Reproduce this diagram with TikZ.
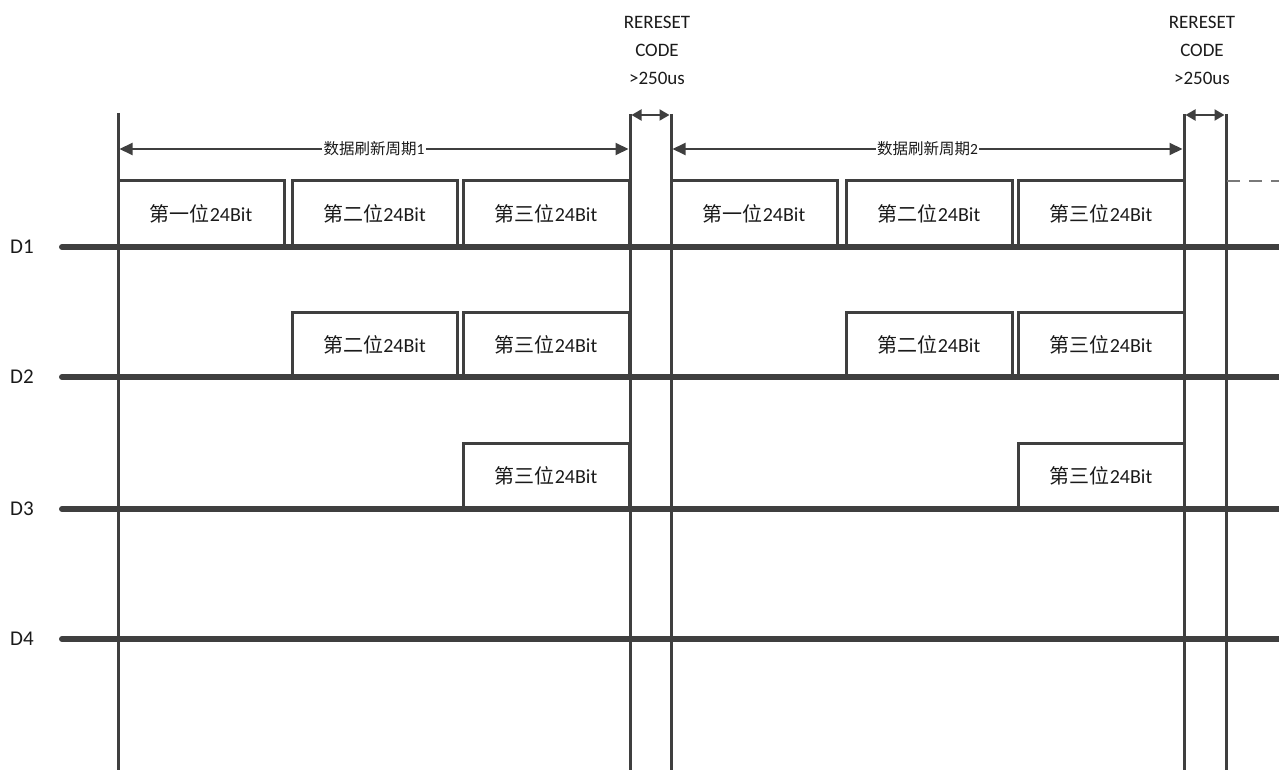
\documentclass[tikz,border=0pt]{standalone}
\usepackage{fontspec}
\setmainfont{Carlito}
\newfontfamily\cjk{Noto Sans CJK SC}
\usetikzlibrary{arrows.meta}
\definecolor{ln}{HTML}{3F3F3F}
\definecolor{tx}{HTML}{1A1A1A}
\begin{document}
\begin{tikzpicture}[x=1pt,y=-1pt,
  sig/.style={line width=6pt,draw=ln,line cap=round},
  pulse/.style={line width=3pt,draw=ln,line join=miter},
  vline/.style={line width=3pt,draw=ln},
  span/.style={line width=2pt,draw=ln,{Triangle[length=13pt,width=12pt]}-{Triangle[length=13pt,width=12pt]}},
  rst/.style={line width=2pt,draw=ln,{Triangle[length=10pt,width=11pt]}-{Triangle[length=10pt,width=11pt]}},
  boxlbl/.style={font=\fontsize{20}{23}\selectfont,text=tx,inner sep=0pt},
  dlbl/.style={font=\fontsize{21}{24}\selectfont,text=tx,inner sep=0pt},
  rlbl/.style={font=\fontsize{19}{22}\selectfont,text=tx,inner sep=0pt,anchor=base},
  plbl/.style={font=\fontsize{15.5}{18}\selectfont,text=tx,fill=white,inner sep=1.5pt},
  dsh/.style={line width=1.5pt,draw=ln!70,dash pattern=on 13pt off 9pt}
]
\useasboundingbox (0,0) rectangle (1279,770);

% ---- pulses D1
\foreach \a/\b/\t [count=\i] in {118/284/一, 292/457/二, 463/629/三, 671/837/一, 846/1012/二, 1018/1184/三}{
  \draw[pulse] (\a,247) |- (\b,181) -- (\b,247);
  \node[boxlbl] (d1b\i) at ({(\a+\b)/2},214) {{\cjk 第\t 位}24Bit};
}
% ---- pulses D2
\foreach \a/\b/\t [count=\i] in {292/457/二, 463/629/三, 846/1012/二, 1018/1184/三}{
  \draw[pulse] (\a,377) |- (\b,312) -- (\b,377);
  \node[boxlbl] (d2b\i) at ({(\a+\b)/2},345) {{\cjk 第\t 位}24Bit};
}
% ---- pulses D3
\foreach \a/\b/\t [count=\i] in {463/629/三, 1018/1184/三}{
  \draw[pulse] (\a,509) |- (\b,443) -- (\b,509);
  \node[boxlbl] (d3b\i) at ({(\a+\b)/2},476) {{\cjk 第\t 位}24Bit};
}

% ---- vertical markers
\coordinate (v0) at (118,113);
\coordinate (v1) at (630,114);
\coordinate (v2) at (671,114);
\coordinate (v3) at (1184,114);
\coordinate (v4) at (1226,114);
\foreach \v in {v0,v1,v2,v3,v4}{
  \draw[vline] (\v) -- (\v |- 0,770);
}

% dashed continuation
\coordinate (ds) at (1227,181);
\coordinate (de) at (1279,181);
\draw[dsh] (ds) -- (de);

% ---- signal lines
\foreach \n/\y in {1/247, 2/377, 3/509, 4/639}{
  \coordinate (s\n) at (62,\y);
  \coordinate (e\n) at (1285,\y);
  \draw[sig] (s\n) -- (e\n);
  \node[dlbl] (lab\n) at (22,\y) {D\n};
}

% ---- period arrows
\coordinate (p1a) at (119.5,149);
\coordinate (p1b) at (628.5,149);
\coordinate (p2a) at (672.5,149);
\coordinate (p2b) at (1182.5,149);
\draw[span] (p1a) -- (p1b) node[midway,plbl] (per1) {{\cjk 数据刷新周期}1};
\draw[span] (p2a) -- (p2b) node[midway,plbl] (per2) {{\cjk 数据刷新周期}2};

% ---- reset arrows
\coordinate (r1a) at (631.5,115);
\coordinate (r1b) at (669.5,115);
\coordinate (r2a) at (1185.5,115);
\coordinate (r2b) at (1224.5,115);
\draw[rst] (r1a) -- (r1b);
\draw[rst] (r2a) -- (r2b);

% ---- reset labels
\node[rlbl] (ra1) at (657,29) {RERESET};
\node[rlbl] (ra2) at (657,57) {CODE};
\node[rlbl] (ra3) at (657,85) {>250us};
\node[rlbl] (rb1) at (1202,29) {RERESET};
\node[rlbl] (rb2) at (1202,57) {CODE};
\node[rlbl] (rb3) at (1202,85) {>250us};
\end{tikzpicture}
\end{document}
